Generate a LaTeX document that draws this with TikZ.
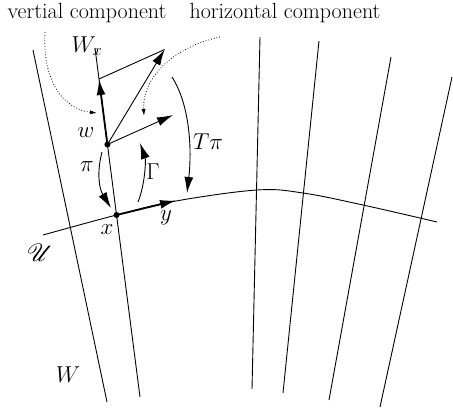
\documentclass[tikz,border=0pt]{standalone}
\usepackage{fix-cm}
\usepackage{mathrsfs}
\usetikzlibrary{arrows.meta}
\begin{document}
\begin{tikzpicture}[x=1pt,y=-1pt,
  lbl/.style={font=\fontsize{23}{27}\selectfont, inner sep=0pt},
  txt/.style={font=\fontsize{22}{26}\selectfont, inner sep=0pt},
  fibre/.style={line width=0.9pt},
  vec/.style={line width=0.9pt,-{Latex[length=16pt,width=9pt]}},
  boldvec/.style={line width=1.8pt,-{Latex[length=16pt,width=9pt]}},
  curvedarrow/.style={line width=0.9pt,-{Latex[length=16pt,width=9pt]}},
  dottedarrow/.style={line width=0.8pt,dotted,-{Latex[length=7pt,width=4pt]}},
  dotnode/.style={circle,fill,inner sep=0pt,minimum size=6pt}]
\useasboundingbox (0,0) rectangle (453,408);

% fibres
\coordinate (f1a) at (33,50);   \coordinate (f1b) at (107,402);
\coordinate (f2a) at (95,48);   \coordinate (f2b) at (140,397);
\coordinate (f3a) at (260,37);  \coordinate (f3b) at (252,389);
\coordinate (f4a) at (319,41);  \coordinate (f4b) at (283,393);
\coordinate (f5a) at (391,57);  \coordinate (f5b) at (329,400);
\coordinate (f6a) at (452,77);  \coordinate (f6b) at (380,407);
\draw[fibre] (f1a) -- (f1b);
\draw[fibre] (f2a) -- (f2b);
\draw[fibre] (f3a) -- (f3b);
\draw[fibre] (f4a) -- (f4b);
\draw[fibre] (f5a) -- (f5b);
\draw[fibre] (f6a) -- (f6b);

% section U
\draw[fibre] plot[smooth, tension=0.6] coordinates {(43,235) (116.5,215) (176,201) (257,190) (303,193) (363,205) (437,222)};

% points
\node[dotnode] (w) at (107.4,144.5) {};
\node[dotnode] (x) at (116.5,215) {};
\coordinate (v) at (99,79);
\coordinate (h) at (173,115);
\coordinate (d) at (164.6,49.5);
\coordinate (yt) at (176,200.5);

% vectors
\draw[fibre] (v) -- (d);
\draw[boldvec] (w.center) -- (v);
\draw[vec] (w.center) -- (d);
\draw[vec] (w.center) -- (h);
\draw[boldvec] (x.center) -- (yt);

% curved arrows
\coordinate (pis) at (102,152);   \coordinate (pie) at (111,208);
\coordinate (gas) at (138,202);   \coordinate (gae) at (140,143);
\coordinate (tps) at (172,77);    \coordinate (tpe) at (187,193);
\draw[curvedarrow] (pis) .. controls (96,175) and (100,190) .. (pie);
\draw[curvedarrow] (gas) .. controls (145,185) and (146,160) .. (gae);
\draw[curvedarrow] (tps) .. controls (190,105) and (192,150) .. (tpe);

% labels
\node[txt] (vc) at (87,13) {vertial component};
\node[txt] (hc) at (285,13) {horizontal component};
\coordinate (vcs) at (45,32);  \coordinate (vce) at (97,113);
\coordinate (hcs) at (220,37); \coordinate (hce) at (144,116);
\draw[dottedarrow] (vcs) .. controls (42,90) and (70,110) .. (vce);
\draw[dottedarrow] (hcs) .. controls (170,48) and (142,80) .. (hce);

\node[lbl] (lWx) at (87,46) {$W_x$};
\node[lbl] (lw) at (86,133) {$w$};
\node[lbl] (lpi) at (87,167) {$\pi$};
\node[lbl] (lGa) at (153,172) {$\Gamma$};
\node[lbl] (lTpi) at (208,142) {$T\pi$};
\node[lbl] (lx) at (107,230) {$x$};
\node[lbl] (ly) at (166,218) {$y$};
\node[lbl] (lU) at (40,253) {$\mathscr{U}$};
\node[lbl] (lW) at (68,375) {$W$};
\end{tikzpicture}
\end{document}
